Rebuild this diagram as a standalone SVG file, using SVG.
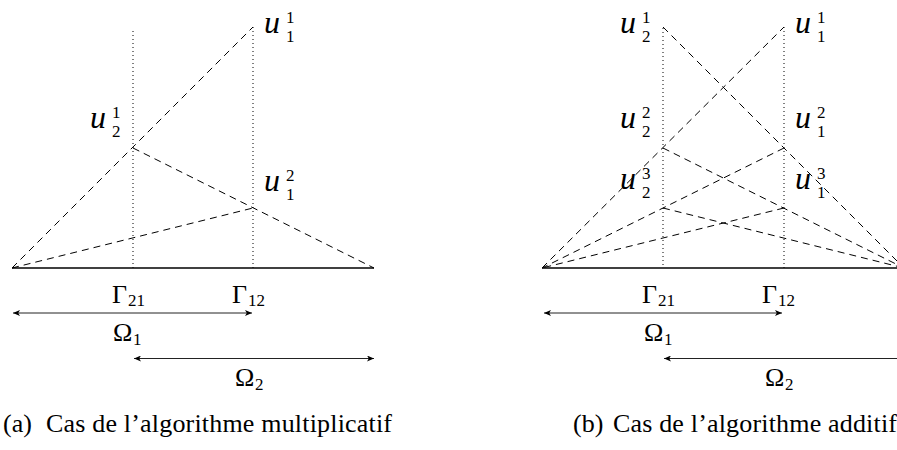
<svg xmlns="http://www.w3.org/2000/svg" width="897" height="450" viewBox="0 0 897 450">
<style>
  .base{stroke:#000;stroke-width:1.3;fill:none}
  .dash{stroke:#000;stroke-width:1;stroke-dasharray:7,5;fill:none}
  .dot{stroke:#000;stroke-width:1;stroke-dasharray:1,3;fill:none}
  .arr{stroke:#222;stroke-width:1;fill:none;marker-start:url(#tip);marker-end:url(#tip)}
  .u{font-family:"Liberation Serif",serif;font-style:italic;font-size:32px;fill:#000}
  .s{font-family:"Liberation Serif",serif;font-size:17px;fill:#000}
  .g{font-family:"Liberation Serif",serif;font-size:26px;fill:#000}
  .gs{font-family:"Liberation Serif",serif;font-size:17px;fill:#000}
  .cap{font-family:"Liberation Serif",serif;font-size:26px;fill:#000}
</style>
<defs>
  <marker id="tip" viewBox="0 0 7 6" refX="7" refY="3" markerWidth="7" markerHeight="6" markerUnits="userSpaceOnUse" orient="auto-start-reverse">
    <path d="M0,0 L7,3 L0,6 L1.8,3 z" fill="#000"/>
  </marker>
</defs>

<!-- (a) multiplicative -->
<g id="diagram-a">
  <g id="a-axes">
    <line class="base" x1="12" y1="268" x2="374" y2="268"/>
    <line class="dot" x1="133" y1="31" x2="133" y2="268"/>
    <line class="dot" x1="253" y1="27" x2="253" y2="268"/>
  </g>
  <g id="a-connectors">
    <line class="dash" x1="12" y1="268" x2="253" y2="27"/>
    <line class="dash" x1="133" y1="148" x2="374" y2="268"/>
    <line class="dash" x1="12" y1="268" x2="253" y2="208"/>
    <line class="arr" x1="13" y1="313" x2="252" y2="313"/>
    <line class="arr" x1="134" y1="358.5" x2="374" y2="358.5"/>
  </g>
  <g id="a-u11"><text class="u" x="264" y="33">u</text><text class="s" x="286" y="23">1</text><text class="s" x="286" y="42">1</text></g>
  <g id="a-u21"><text class="u" x="90" y="128">u</text><text class="s" x="112" y="118">1</text><text class="s" x="112" y="137">2</text></g>
  <g id="a-u12"><text class="u" x="264" y="191">u</text><text class="s" x="286" y="181">2</text><text class="s" x="286" y="200">1</text></g>
  <g id="a-G21"><text class="g" x="112" y="303">Γ</text><text class="gs" x="128" y="306">21</text></g>
  <g id="a-G12"><text class="g" x="232" y="303">Γ</text><text class="gs" x="248" y="306">12</text></g>
  <g id="a-O1"><text class="g" x="113" y="341">Ω</text><text class="gs" x="133" y="345">1</text></g>
  <g id="a-O2"><text class="g" x="235" y="386">Ω</text><text class="gs" x="255" y="390">2</text></g>
  <g id="a-caption"><text class="cap" x="3" y="432">(a)</text><text class="cap" x="46" y="432" textLength="346" lengthAdjust="spacing">Cas de l’algorithme multiplicatif</text></g>
</g>

<!-- (b) additive -->
<g id="diagram-b">
  <g id="b-axes">
    <line class="base" x1="542" y1="268" x2="904" y2="268"/>
    <line class="dot" x1="663" y1="28" x2="663" y2="268"/>
    <line class="dot" x1="784" y1="27" x2="784" y2="268"/>
  </g>
  <g id="b-connectors">
    <line class="dash" x1="542" y1="268" x2="784" y2="27"/>
    <line class="dash" x1="663" y1="27" x2="904" y2="268"/>
    <line class="dash" x1="663" y1="148" x2="904" y2="268"/>
    <line class="dash" x1="784" y1="148" x2="542" y2="268"/>
    <line class="dash" x1="663" y1="208" x2="904" y2="268"/>
    <line class="dash" x1="784" y1="208" x2="542" y2="268"/>
    <line class="arr" x1="544" y1="313" x2="782" y2="313"/>
    <line class="arr" x1="664" y1="358.5" x2="904" y2="358.5"/>
  </g>
  <g id="b-u21"><text class="u" x="620" y="33">u</text><text class="s" x="642" y="23">1</text><text class="s" x="642" y="42">2</text></g>
  <g id="b-u11"><text class="u" x="795" y="33">u</text><text class="s" x="817" y="23">1</text><text class="s" x="817" y="42">1</text></g>
  <g id="b-u22"><text class="u" x="620" y="128">u</text><text class="s" x="642" y="118">2</text><text class="s" x="642" y="137">2</text></g>
  <g id="b-u12"><text class="u" x="795" y="128">u</text><text class="s" x="817" y="118">2</text><text class="s" x="817" y="137">1</text></g>
  <g id="b-u23"><text class="u" x="620" y="189">u</text><text class="s" x="642" y="179">3</text><text class="s" x="642" y="198">2</text></g>
  <g id="b-u13"><text class="u" x="795" y="189">u</text><text class="s" x="817" y="179">3</text><text class="s" x="817" y="198">1</text></g>
  <g id="b-G21"><text class="g" x="642" y="303">Γ</text><text class="gs" x="658" y="306">21</text></g>
  <g id="b-G12"><text class="g" x="762" y="303">Γ</text><text class="gs" x="778" y="306">12</text></g>
  <g id="b-O1"><text class="g" x="644" y="341">Ω</text><text class="gs" x="664" y="345">1</text></g>
  <g id="b-O2"><text class="g" x="765" y="386">Ω</text><text class="gs" x="785" y="390">2</text></g>
  <g id="b-caption"><text class="cap" x="573" y="432">(b)</text><text class="cap" x="613" y="432" textLength="284" lengthAdjust="spacing">Cas de l’algorithme additif</text></g>
</g>
</svg>
